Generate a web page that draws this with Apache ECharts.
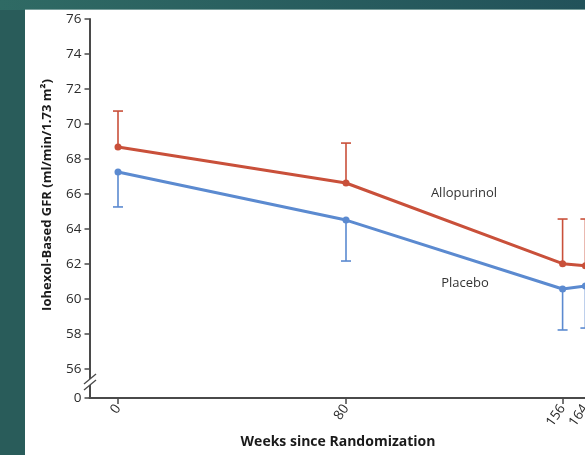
<!DOCTYPE html>
<html>
<head>
<meta charset="utf-8">
<script src="https://cdn.jsdelivr.net/npm/echarts@6/dist/echarts.min.js"></script>
<style>
html,body{margin:0;padding:0;width:585px;height:455px;overflow:hidden;}
body{background:#295c5a;position:relative;}
#topband{position:absolute;left:0;top:0;width:585px;height:10px;background:linear-gradient(to right,#2f6a64,#22525a);}
#topline{position:absolute;left:25px;top:9px;width:560px;height:1px;background:#7a9f9c;}
#panel{position:absolute;left:25px;top:10px;width:560px;height:445px;background:#ffffff;}
#chart{position:absolute;left:0;top:0;width:660px;height:455px;}
</style>
</head>
<body>
<div id="topband"></div>
<div id="panel"></div>
<div id="topline"></div>
<div id="chart"></div>
<script>
// ---- data ----
const weeks = [0, 80, 156, 164];
const allopurinol = [68.69, 66.63, 62.02, 61.90];
const allopurinolUpper = [70.74, 68.91, 64.57, 64.57];
const placebo = [67.26, 64.51, 60.57, 60.74];
const placeboLower = [65.26, 62.17, 58.23, 58.34];
const yTickValues = [56, 58, 60, 62, 64, 66, 68, 70, 72, 74, 76];
const xTickValues = [0, 80, 156, 164];
const seriesNames = ['Allopurinol', 'Placebo'];

const Y_ZERO = 54.343; // position of the broken-axis "0"
const Y_BREAK = 55.26;
const RED = '#c9503a';
const BLUE = '#5b8ad0';
const AXIS = '#4a4a4a';
const FONT = '"Open Sans", "Noto Sans", sans-serif';

const chart = echarts.init(document.getElementById('chart'), null, {renderer: 'canvas'});

function pairs(xs, ys) { return xs.map((x, i) => [x, ys[i]]); }
function errData(xs, mean, bound) { return xs.map((x, i) => [x, mean[i], bound[i]]); }

function errRender(color) {
  return function (params, api) {
    const x = api.value(0), m = api.value(1), b = api.value(2);
    const p1 = api.coord([x, m]);
    const p2 = api.coord([x, b]);
    const style = {stroke: color, lineWidth: 1.6};
    return {
      type: 'group',
      children: [
        {type: 'line', shape: {x1: p1[0], y1: p1[1], x2: p2[0], y2: p2[1]}, style: style},
        {type: 'line', shape: {x1: p2[0] - 5, y1: p2[1], x2: p2[0] + 5, y2: p2[1]}, style: style}
      ]
    };
  };
}

const option = {
  backgroundColor: 'transparent',
  animation: false,
  grid: {left: 89.5, top: 19, width: 541.5, height: 379, containLabel: false},
  xAxis: {
    type: 'value', min: -10, max: 180,
    axisLine: {show: true, onZero: false, lineStyle: {color: AXIS, width: 2}},
    axisTick: {show: true, customValues: xTickValues, length: 6, lineStyle: {color: AXIS, width: 1.5}},
    axisLabel: {customValues: xTickValues, rotate: 55, margin: 8, color: '#2b2b2b', fontSize: 13.5, fontFamily: FONT},
    splitLine: {show: false}
  },
  yAxis: {
    type: 'value', min: Y_ZERO, max: 76,
    axisLine: {show: true, onZero: false, lineStyle: {color: AXIS, width: 2}},
    axisTick: {show: true, customValues: [Y_ZERO].concat(yTickValues), length: 5, lineStyle: {color: AXIS, width: 1.5}},
    axisLabel: {
      customValues: [Y_ZERO].concat(yTickValues), margin: 8, color: '#2b2b2b', fontSize: 13.5, fontFamily: FONT,
      formatter: v => (v < 55 ? '0' : String(Math.round(v)))
    },
    splitLine: {show: false}
  },
  series: [
    {type: 'custom', name: seriesNames[0] + ' CI', renderItem: errRender(RED), data: errData(weeks, allopurinol, allopurinolUpper), z: 1, encode: {x: 0, y: [1, 2]}},
    {type: 'custom', name: seriesNames[1] + ' CI', renderItem: errRender(BLUE), data: errData(weeks, placebo, placeboLower), z: 1, encode: {x: 0, y: [1, 2]}},
    {type: 'line', name: seriesNames[0], data: pairs(weeks, allopurinol), symbol: 'circle', symbolSize: 7,
     lineStyle: {color: RED, width: 3}, itemStyle: {color: RED}, z: 3},
    {type: 'line', name: seriesNames[1], data: pairs(weeks, placebo), symbol: 'circle', symbolSize: 7,
     lineStyle: {color: BLUE, width: 3}, itemStyle: {color: BLUE}, z: 3}
  ]
};
chart.setOption(option);

// annotations and axis break drawn after layout
const bp = chart.convertToPixel({xAxisIndex: 0, yAxisIndex: 0}, [-10, Y_BREAK]);
const bx = bp[0] + 0.5, by = bp[1];
chart.setOption({
  graphic: [
    {type: 'rect', shape: {x: bx - 3, y: by - 3, width: 6, height: 6}, style: {fill: '#ffffff'}, z: 10},
    {type: 'line', shape: {x1: bx - 6, y1: by + 2, x2: bx + 6, y2: by - 8}, style: {stroke: AXIS, lineWidth: 1.3}, z: 11},
    {type: 'line', shape: {x1: bx - 6, y1: by + 8, x2: bx + 6, y2: by - 2}, style: {stroke: AXIS, lineWidth: 1.3}, z: 11},
    {type: 'text', x: 47, y: 195, rotation: Math.PI / 2,
     style: {text: 'Iohexol-Based GFR (ml/min/1.73 m²)', fill: '#1a1a1a', font: 'bold 13px ' + FONT, align: 'center', verticalAlign: 'middle'}},
    {type: 'text', x: 338, y: 442,
     style: {text: 'Weeks since Randomization', fill: '#1a1a1a', font: 'bold 14px ' + FONT, align: 'center', verticalAlign: 'middle'}},
    {type: 'text', x: 464, y: 193,
     style: {text: seriesNames[0], fill: '#333', font: '13px ' + FONT, align: 'center', verticalAlign: 'middle'}},
    {type: 'text', x: 465, y: 283,
     style: {text: seriesNames[1], fill: '#333', font: '13px ' + FONT, align: 'center', verticalAlign: 'middle'}}
  ]
});
</script>
</body>
</html>
